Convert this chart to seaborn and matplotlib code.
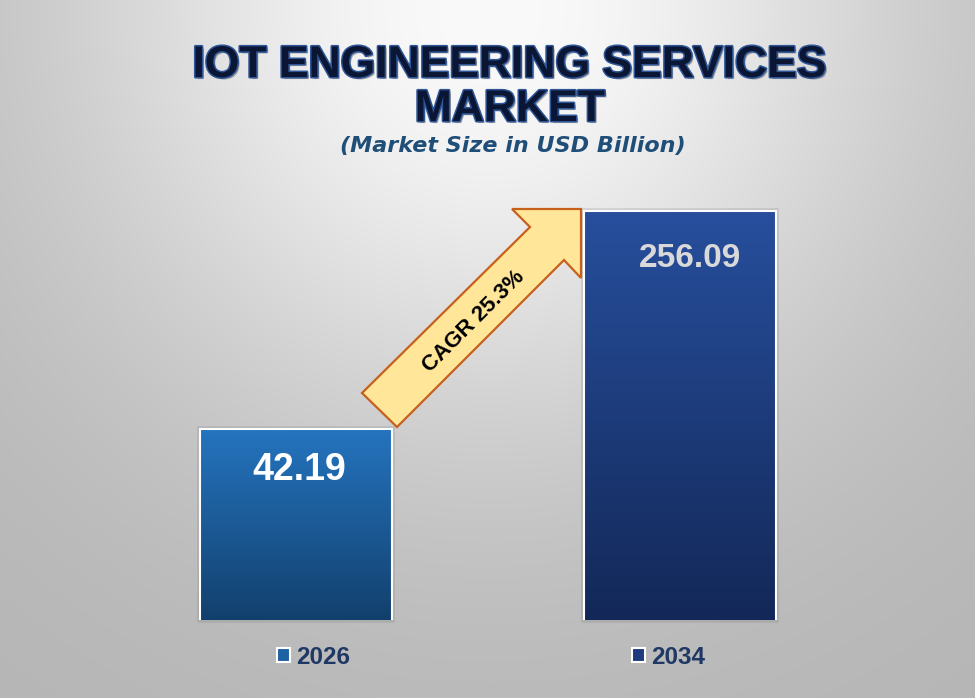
import numpy as np
import matplotlib
matplotlib.use('Agg')
import matplotlib.pyplot as plt
import matplotlib.patheffects as pe
from matplotlib.patches import Polygon, Patch, Rectangle
import seaborn as sns

# data
years = ['2026', '2034']
market_size = [42.19, 256.09]
cagr_label = 'CAGR 25.3%'
title_lines = ['IOT ENGINEERING SERVICES', 'MARKET']
subtitle = '(Market Size in USD Billion)'

# styling
top_colors = ['#2574BF', '#274F9D']
bottom_colors = ['#12406D', '#132858']
legend_colors = ['#1F62A4', '#1E3B80']
label_colors = ['white', '#D9D9D9']
label_sizes = [27, 24]
label_offsets = [(2, -29.5), (7, -34)]  # points, from the bar top

W, H = 975, 698


def px(x, y):
    # figure pixel (from top-left) -> figure fraction
    return x / W, 1 - y / H


sns.set_theme(style='white')
plt.rcParams['font.family'] = ['Liberation Sans', 'DejaVu Sans']

fig = plt.figure(figsize=(W / 100, H / 100), dpi=100)

# grey radial background, light at top centre
bg = fig.add_axes([0, 0, 1, 1], zorder=0)
yy, xx = np.mgrid[0:H, 0:W]
d = np.hypot(xx - 490, yy - 10)
shade = (181 + 69 * np.exp(-(d / 430) ** 2)) / 255
bg.imshow(np.dstack([shade] * 3), aspect='auto')
bg.axis('off')

# bars: hidden log axis so the bars keep the proportions of the original
ax = fig.add_axes([104 / W, 78 / H, 768 / W, 430 / H], zorder=1)
ax.patch.set_alpha(0)
sns.barplot(x=years, y=market_size, hue=years, palette=legend_colors,
            width=0.5, legend=False, edgecolor='white', linewidth=1.5, ax=ax)
ax.set_yscale('log')
ax.set_xlim(-0.5, 1.5)
ax.set_ylim(8.69, 304.7)
ax.axis('off')

to_axes = ax.transData + ax.transAxes.inverted()
for p in ax.patches:
    i = int(round(p.get_x() + p.get_width() / 2))
    x0, x1 = p.get_x(), p.get_x() + p.get_width()
    (a0, top), (a1, _) = to_axes.transform([(x0, p.get_height()), (x1, p.get_height())])
    grad = np.linspace(0, 1, 256)[:, None, None]
    c_top = np.array(matplotlib.colors.to_rgb(top_colors[i]))
    c_bot = np.array(matplotlib.colors.to_rgb(bottom_colors[i]))
    img = c_top * (1 - grad) + c_bot * grad
    ax.imshow(img, extent=[a0, a1, 0, top], transform=ax.transAxes,
              aspect='auto', zorder=1.5)
    # soft shadow round the bar
    ax.add_patch(Rectangle((a0, 0), a1 - a0, top, transform=ax.transAxes,
                           facecolor='none', edgecolor='#7f7f7f', lw=4,
                           alpha=0.25, zorder=1.4, clip_on=False))
    p.set_facecolor('none')
    p.set_zorder(2)

for i, v in enumerate(market_size):
    ax.annotate(f'{v:.2f}', xy=(i, v), xytext=label_offsets[i],
                textcoords='offset points', ha='center', va='center',
                fontsize=label_sizes[i], fontweight='bold',
                color=label_colors[i], zorder=3)

# CAGR arrow
arrow_px = [(362, 393), (530, 227), (512, 209), (581, 209),
            (581, 278), (564, 260), (397, 427)]
arrow = Polygon([px(*q) for q in arrow_px], closed=True,
                transform=fig.transFigure, facecolor='#FFE699',
                edgecolor='#C8601C', lw=1.6, zorder=3)
fig.add_artist(arrow)
fig.text(*px(474, 321), cagr_label, rotation=45, rotation_mode='anchor',
         ha='center', va='center', fontsize=16, fontweight='bold',
         color='black', zorder=4)

# titles
title_fx = [pe.SimplePatchShadow(offset=(1.5, -1.5), shadow_rgbFace='#3a3a3a', alpha=0.4),
            pe.Stroke(linewidth=2.2, foreground='#2E5597'), pe.Normal()]
fig.text(*px(510, 77), title_lines[0], ha='center', va='baseline',
         fontsize=32, fontweight='bold', color='#0A1633', path_effects=title_fx)
fig.text(*px(510, 121), title_lines[1], ha='center', va='baseline',
         fontsize=32, fontweight='bold', color='#0A1633', path_effects=title_fx)
fig.text(*px(513, 152), subtitle, ha='center', va='baseline',
         fontsize=16, fontweight='bold', fontstyle='italic',
         family=['DejaVu Sans'], color='#1F4E79')

# legend
handles = [Patch(facecolor=c, edgecolor='white', linewidth=1.5) for c in legend_colors]
fig.legend(handles, years, loc='center', bbox_to_anchor=px(491, 657), ncol=2,
           frameon=False, handlelength=0.55, handleheight=0.55,
           handletextpad=0.25, columnspacing=11.6,
           prop=dict(weight='bold', size=17.5), labelcolor='#1F3864')

fig.savefig('out.png', dpi=100)
